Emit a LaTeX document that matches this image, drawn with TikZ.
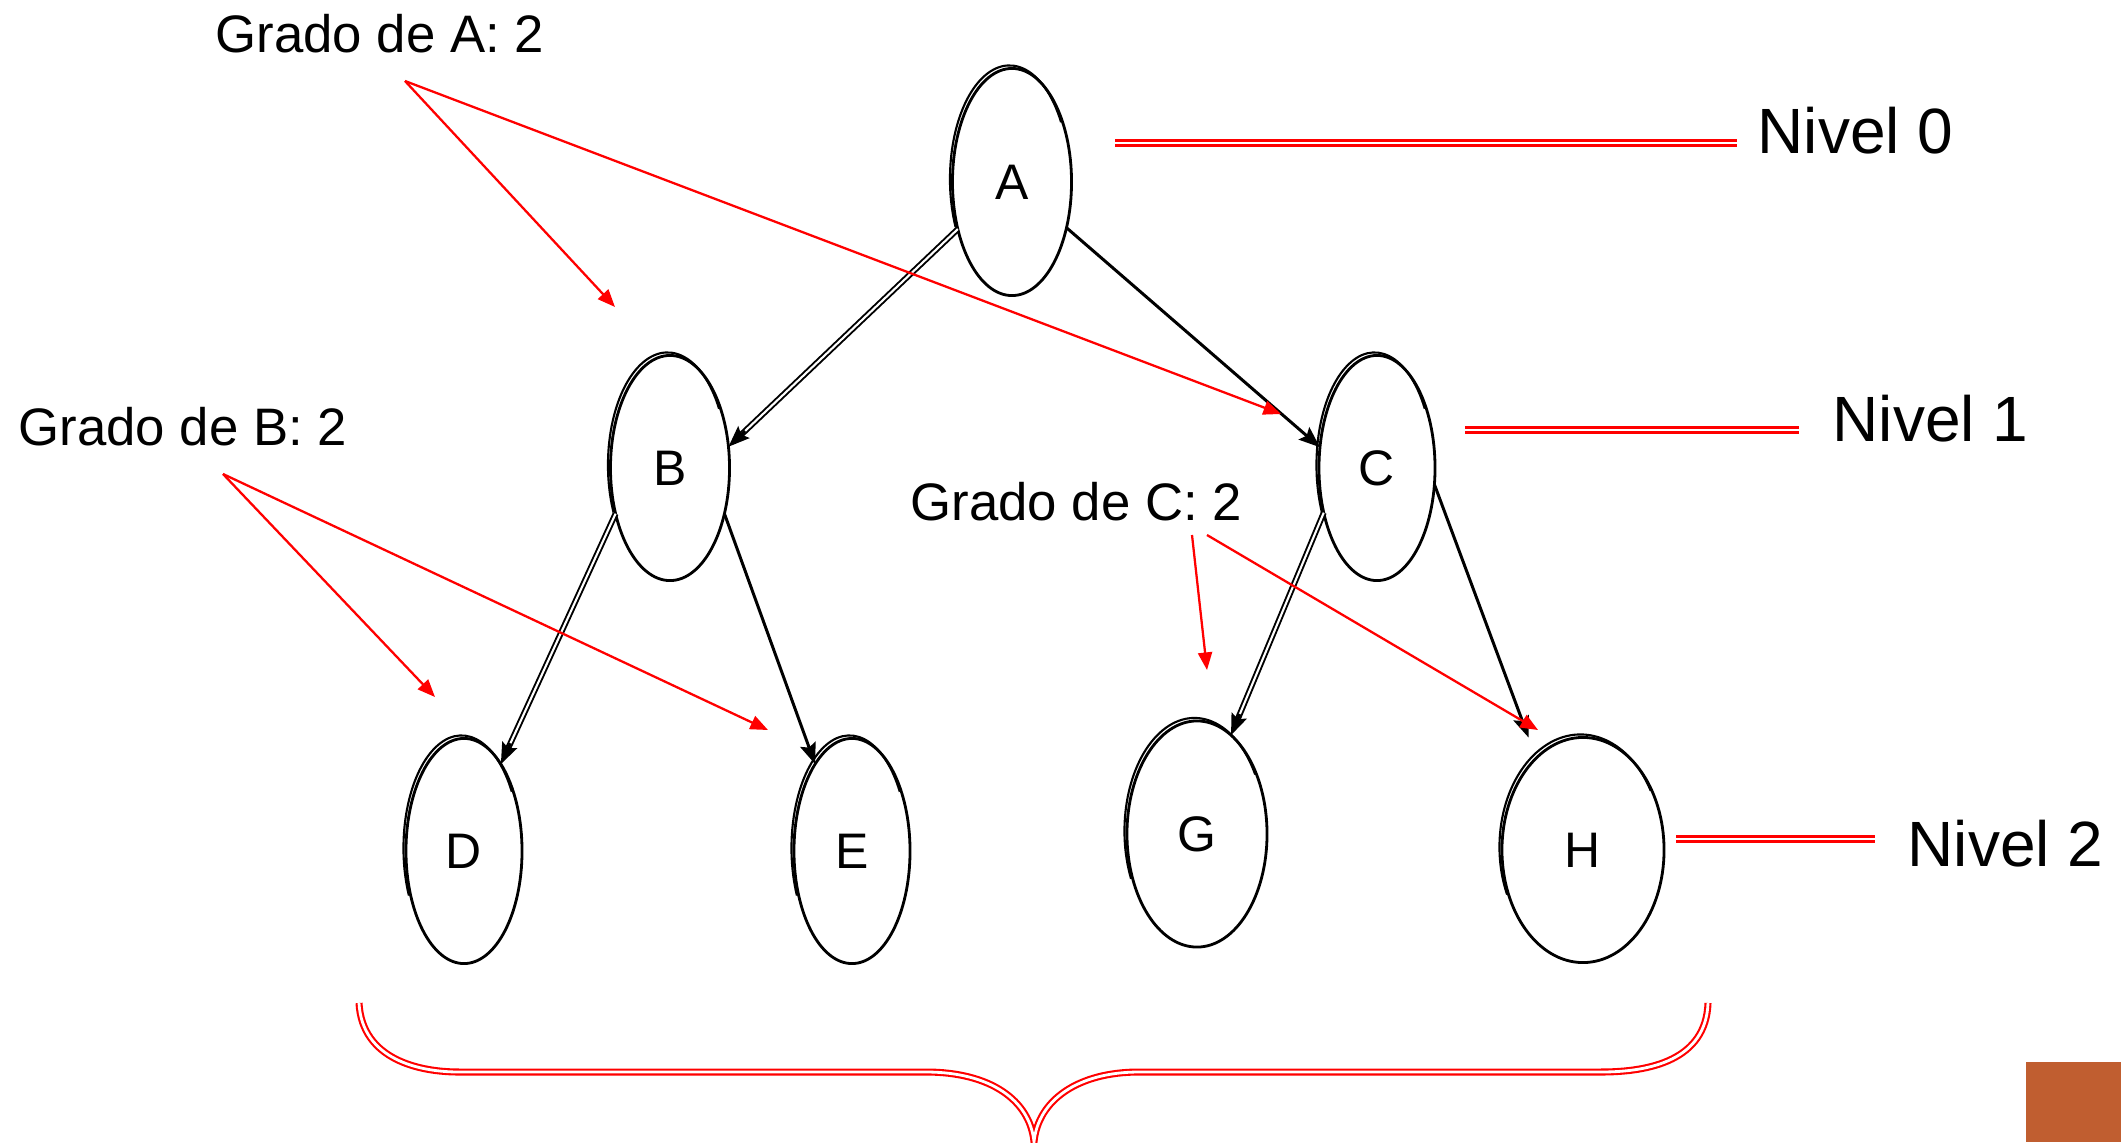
\documentclass[tikz,border=0pt]{standalone}
\usepackage{fontspec}
\setmainfont{Liberation Sans}
\usetikzlibrary{shapes.geometric,arrows.meta,calc}
\definecolor{naranja}{RGB}{192,94,48}
\begin{document}
\begin{tikzpicture}[x=0.01cm,y=-0.01cm,
 nodo/.style={ellipse,draw,line width=0.8pt,inner sep=0pt,outer sep=0pt,font=\fontsize{14.2pt}{17pt}\selectfont},
 grado/.style={inner sep=0pt,anchor=base west,font=\fontsize{15pt}{18pt}\selectfont},
 nivel/.style={inner sep=0pt,anchor=base west,font=\fontsize{18.2pt}{22pt}\selectfont},
 arista/.style={line width=0.85pt,-{Stealth[length=6pt,width=4.6pt,inset=1pt]}},
 aristadoble/.style={line width=0.55pt,double,double distance=0.6pt,shorten >=4pt},
 puntero/.style={draw=red,line width=0.65pt,-{Triangle[length=5pt,width=4pt]}},
 linea/.style={draw=red,line width=0.6pt,double,double distance=0.8pt},
 borde/.style={line width=0.6pt}]
\useasboundingbox (0,0) rectangle (2121,1142);

% nodes
\node[nodo,minimum width=1.19cm,minimum height=2.27cm] (A) at (1012,182) {A};
\node[nodo,minimum width=1.19cm,minimum height=2.25cm] (B) at (670,468) {B};
\node[nodo,minimum width=1.16cm,minimum height=2.25cm] (C) at (1377,468) {C};
\node[nodo,minimum width=1.16cm,minimum height=2.25cm] (D) at (464,851) {D};
\node[nodo,minimum width=1.16cm,minimum height=2.25cm] (E) at (852,851) {E};
\node[nodo,minimum width=1.40cm,minimum height=2.26cm] (G) at (1197,834) {G};
\node[nodo,minimum width=1.62cm,minimum height=2.25cm] (H) at (1583,850) {H};

% second outline strokes
\draw[borde] ($(A.center)+(-2.5,-3)$) ++(30:0.595cm and 1.135cm) arc[start angle=30,end angle=205,x radius=0.595cm,y radius=1.135cm];
\draw[borde] ($(B.center)+(-2.5,-3)$) ++(30:0.595cm and 1.125cm) arc[start angle=30,end angle=205,x radius=0.595cm,y radius=1.125cm];
\draw[borde] ($(C.center)+(-2.5,-3)$) ++(30:0.58cm and 1.125cm) arc[start angle=30,end angle=205,x radius=0.58cm,y radius=1.125cm];
\draw[borde] ($(D.center)+(-2.5,-3)$) ++(30:0.58cm and 1.125cm) arc[start angle=30,end angle=205,x radius=0.58cm,y radius=1.125cm];
\draw[borde] ($(E.center)+(-2.5,-3)$) ++(30:0.58cm and 1.125cm) arc[start angle=30,end angle=205,x radius=0.58cm,y radius=1.125cm];
\draw[borde] ($(G.center)+(-2.5,-3)$) ++(30:0.70cm and 1.13cm) arc[start angle=30,end angle=205,x radius=0.70cm,y radius=1.13cm];
\draw[borde] ($(H.center)+(-2.5,-3)$) ++(30:0.81cm and 1.125cm) arc[start angle=30,end angle=205,x radius=0.81cm,y radius=1.125cm];

% tree edges
\draw[aristadoble] (A.221) -- (B.20);
\draw[arista] ($(B.20)!6.5pt!(A.221)$) -- (B.20);
\draw[arista] (A.320) -- (C.160);
\draw[aristadoble] (B.220) -- (D.67);
\draw[arista] ($(D.67)!6.5pt!(B.220)$) -- (D.67);
\draw[arista] (B.320) -- (E.113);
\draw[aristadoble] (C.220) -- (G.71);
\draw[arista] ($(G.71)!6.5pt!(C.220)$) -- (G.71);
\draw[arista,shorten >=0.22cm] (C.344) -- (H.117);

% labels
\node[grado] (tA) at (215,52) {Grado de A: 2};
\node[grado] (tB) at (18,445) {Grado de B: 2};
\node[grado] (tC) at (910,520) {Grado de C: 2};
\node[nivel] (n0) at (1757,153) {Nivel 0};
\node[nivel] (n1) at (1832,441) {Nivel 1};
\node[nivel] (n2) at (1907,866) {Nivel 2};

% red pointers
\coordinate (pA) at (405,81);
\coordinate (pA1) at (615,307);
\coordinate (pA2) at (1281,414);
\coordinate (pB) at (223,474);
\coordinate (pB1) at (435,697);
\coordinate (pB2) at (768,730);
\coordinate (pC1s) at (1192,535);
\coordinate (pC1) at (1207,670);
\coordinate (pC2s) at (1207,535);
\coordinate (pC2) at (1538,730);
\draw[puntero] (pA) -- (pA1);
\draw[puntero] (pA) -- (pA2);
\draw[puntero] (pB) -- (pB1);
\draw[puntero] (pB) -- (pB2);
\draw[puntero] (pC1s) -- (pC1);
\draw[puntero] (pC2s) -- (pC2);

% level lines
\coordinate (l0) at (1115,143);
\coordinate (l1) at (1465,430);
\coordinate (l2) at (1676,839);
\draw[linea,shorten >=0.2cm] (l0) -- (l0 -| n0.west);
\draw[linea,shorten >=0.33cm] (l1) -- (l1 -| n1.west);
\draw[linea,shorten >=0.32cm] (l2) -- (l2 -| n2.west);

% brace
\draw[linea] (359,1003) .. controls (362,1060) and (420,1072) .. (459,1072) -- (926,1072)
  .. controls (990,1072) and (1030,1100) .. (1034,1142)
  .. controls (1038,1100) and (1078,1072) .. (1139,1072) -- (1601,1072)
  .. controls (1650,1072) and (1706,1060) .. (1708,1003);

% corner decoration
\fill[naranja] (2026,1062) rectangle (2121,1142);
\end{tikzpicture}
\end{document}
